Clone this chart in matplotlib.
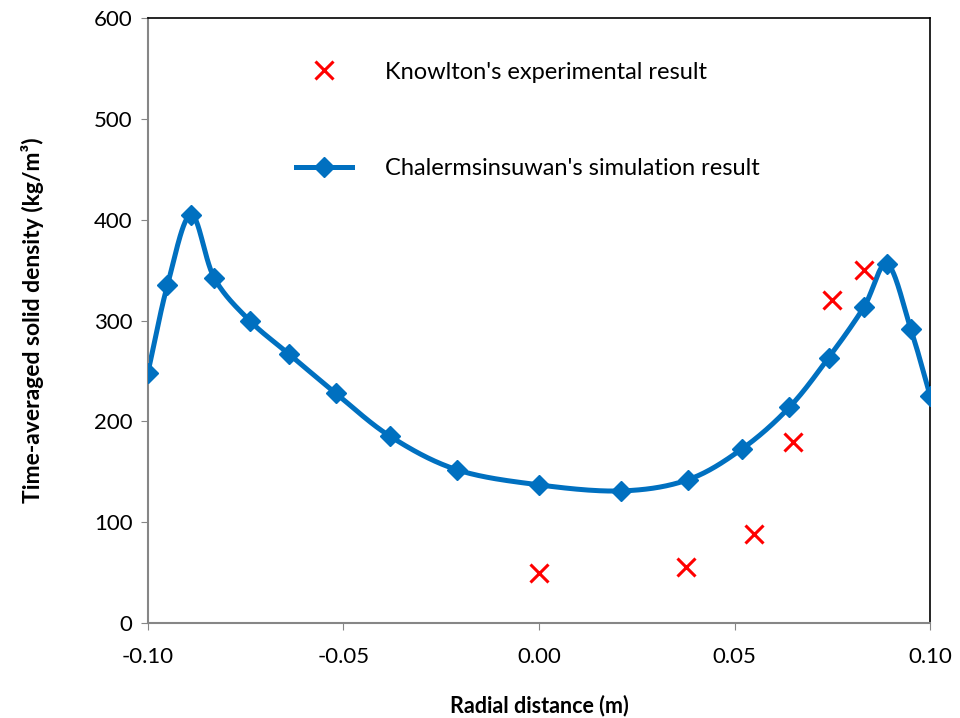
import numpy as np
import matplotlib.pyplot as plt

# simulated profile (Chalermsinsuwan)
sim_r = [-0.100, -0.095, -0.089, -0.083, -0.074, -0.064, -0.052, -0.038, -0.021,
         0.000, 0.021, 0.038, 0.052, 0.064, 0.074, 0.083, 0.089, 0.095, 0.100]
sim_rho = [248, 335, 405, 342, 300, 267, 228, 185, 152,
           137, 131, 142, 173, 214, 263, 313, 356, 292, 225]

# experiment (Knowlton)
exp_r = [0.000, 0.0375, 0.055, 0.065, 0.075, 0.083]
exp_rho = [50, 56, 88, 180, 320, 350]

x_ticks = [-0.10, -0.05, 0.00, 0.05, 0.10]
y_ticks = [0, 100, 200, 300, 400, 500, 600]


def smooth(x, y, n=30):
    # catmull-rom curve through the points, like excel's smoothed line
    x = np.asarray(x, float)
    y = np.asarray(y, float)
    px = np.concatenate([[2 * x[0] - x[1]], x, [2 * x[-1] - x[-2]]])
    py = np.concatenate([[2 * y[0] - y[1]], y, [2 * y[-1] - y[-2]]])
    t = np.linspace(0, 1, n)
    xs, ys = [], []
    for i in range(1, len(px) - 2):
        for arr, out in ((px, xs), (py, ys)):
            p0, p1, p2, p3 = arr[i - 1], arr[i], arr[i + 1], arr[i + 2]
            out.extend(0.5 * (2 * p1 + (-p0 + p2) * t
                              + (2 * p0 - 5 * p1 + 4 * p2 - p3) * t ** 2
                              + (-p0 + 3 * p1 - 3 * p2 + p3) * t ** 3))
    return np.array(xs), np.array(ys)


plt.rcParams['font.family'] = ['Lato', 'DejaVu Sans']

fig = plt.figure(figsize=(9.6, 7.18), dpi=100)
ax = fig.add_axes([0.154, 0.1323, 0.815, 0.8426])

blue = '#0070C0'
sx, sy = smooth(sim_r, sim_rho)
ax.plot(sx, sy, color=blue, lw=3.6, solid_capstyle='round', zorder=2)
ax.plot(sim_r, sim_rho, 'D', color=blue, ms=10, zorder=3)
ax.plot(exp_r, exp_rho, 'x', color='#FF0000', ms=13, mew=2.2, zorder=4)

ax.set_xlim(-0.10, 0.10)
ax.set_ylim(0, 600)
ax.set_xticks(x_ticks)
ax.set_xticklabels(['%.2f' % v for v in x_ticks])
ax.set_yticks(y_ticks)
ax.tick_params(direction='out', length=5, color='#868686', labelsize=16, pad=6)
ax.tick_params(axis='x', pad=12)
for s in ('left', 'bottom'):
    ax.spines[s].set_color('#868686')
    ax.spines[s].set_linewidth(1.5)
for s in ('top', 'right'):
    ax.spines[s].set_color('black')
    ax.spines[s].set_linewidth(1.2)

ax.set_xlabel('Radial distance (m)', fontsize=15.5, fontweight='bold', labelpad=20)
ax.set_ylabel('Time-averaged solid density (kg/m³)', fontsize=16.5,
              fontweight='bold', labelpad=36)

h1, = ax.plot([], [], 'x', color='#FF0000', ms=13, mew=2.2)
h2, = ax.plot([], [], '-D', color=blue, lw=3.6, ms=10)
ax.legend([h1, h2], ["Knowlton's experimental result",
                     "Chalermsinsuwan's simulation result"],
          loc='upper left', bbox_to_anchor=(0.189, 0.928), frameon=False,
          borderaxespad=0, borderpad=0,
          fontsize=17, handlelength=2.4, handletextpad=1.4, labelspacing=3.2)

fig.savefig('out.png', dpi=100)
